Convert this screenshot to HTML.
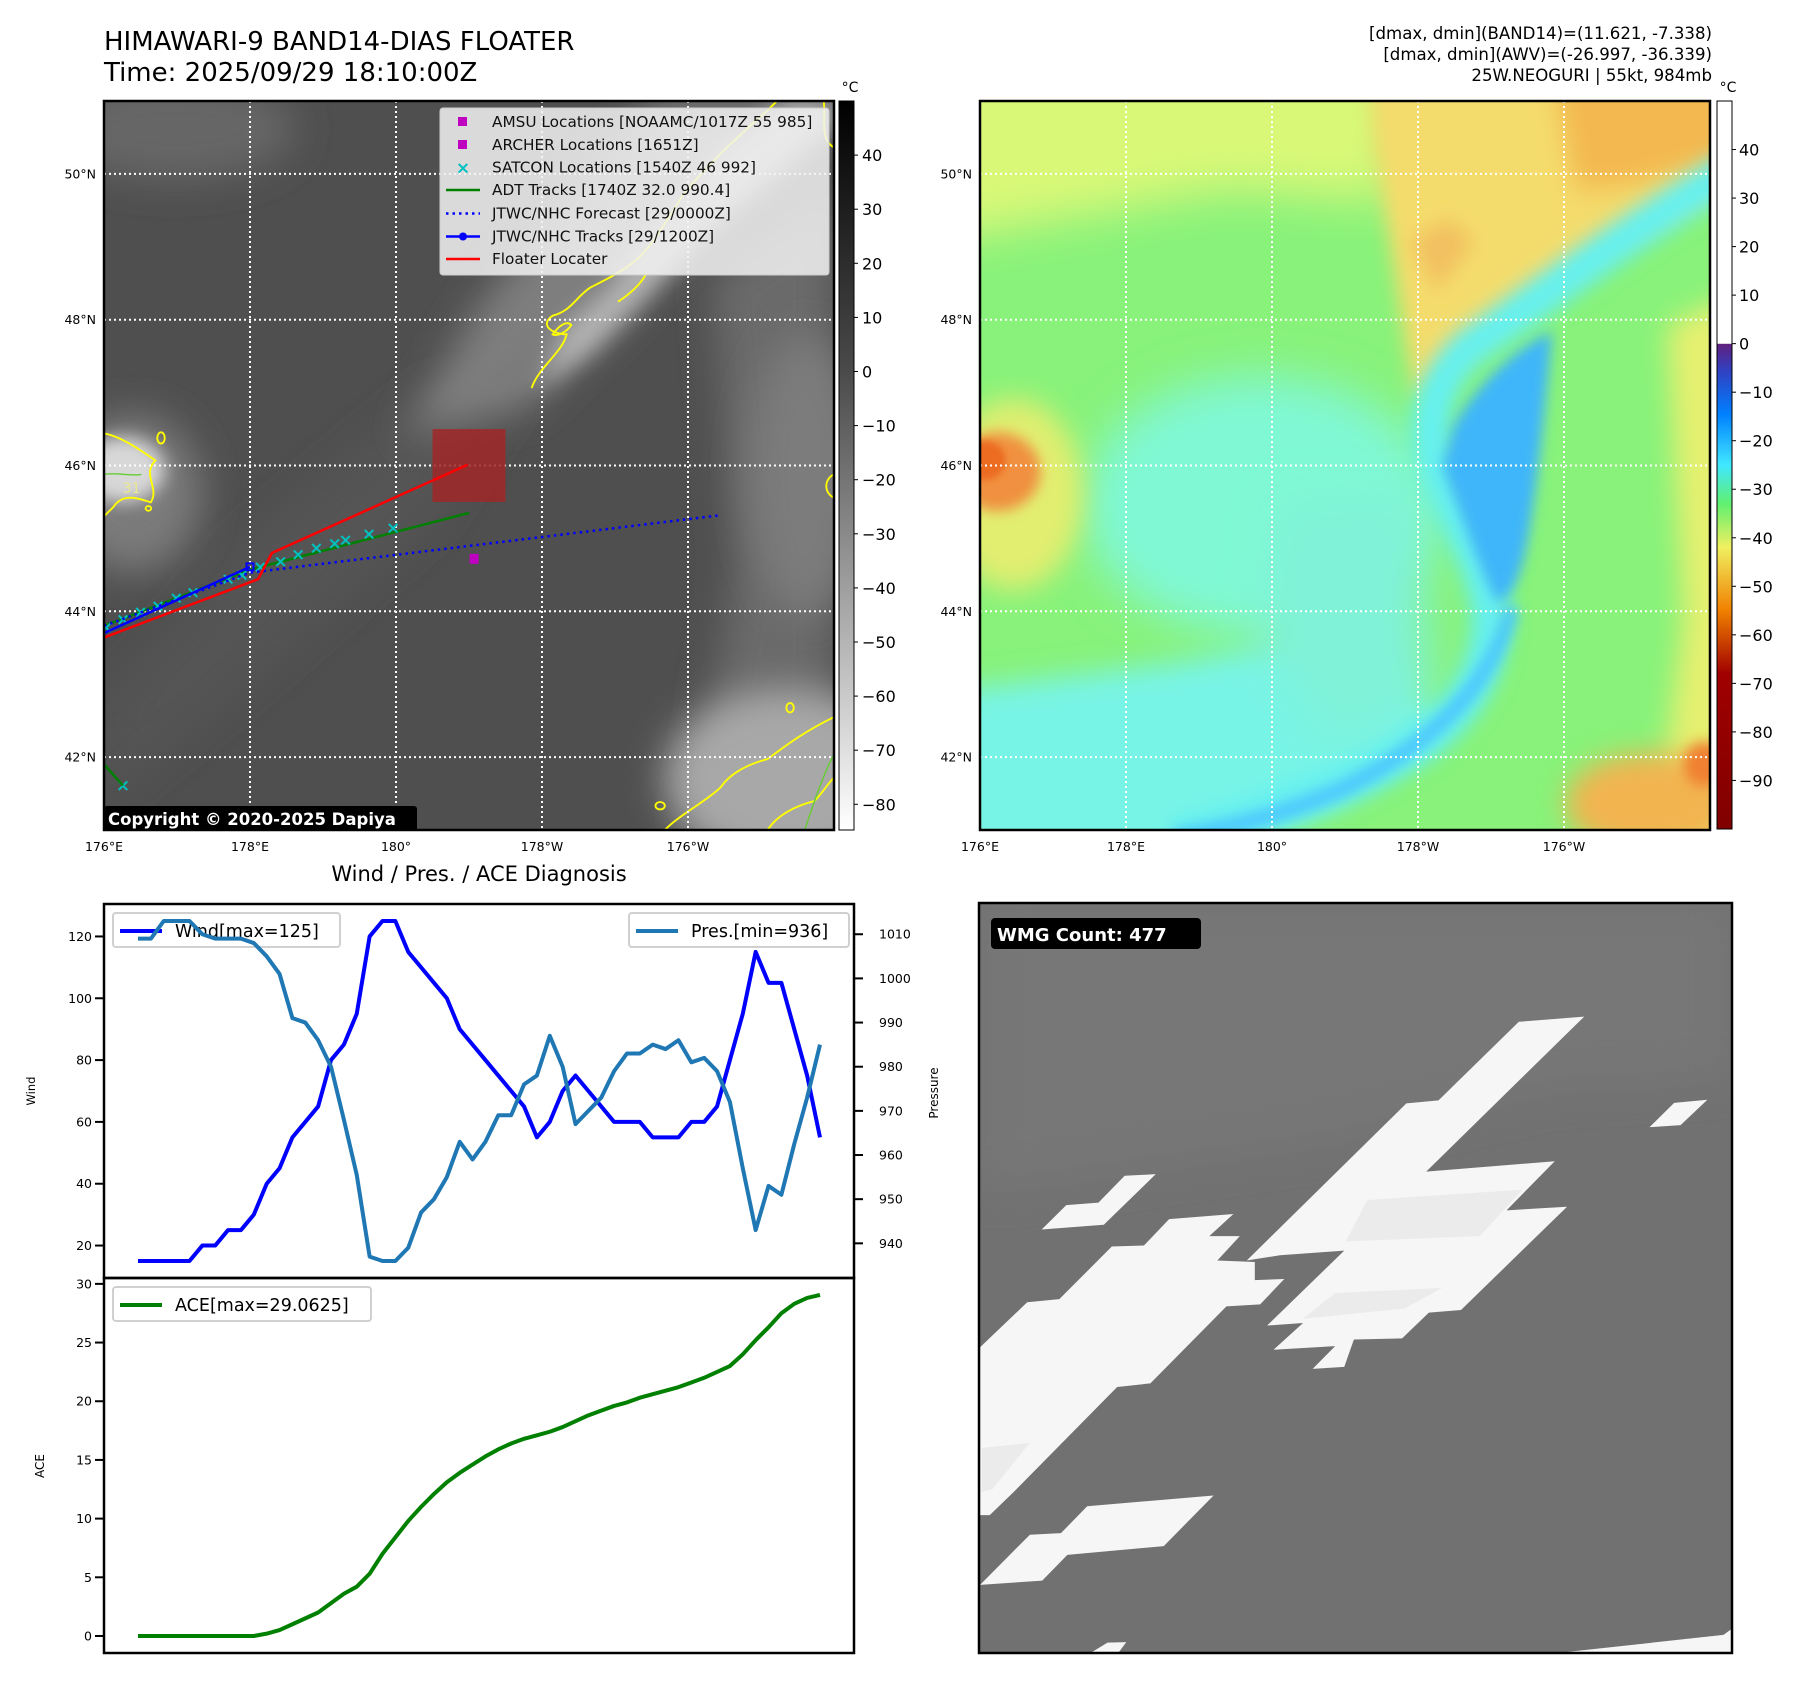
<!DOCTYPE html>
<html><head><meta charset="utf-8"><title>HIMAWARI-9 BAND14 Floater</title>
<style>
html,body{margin:0;padding:0;background:#fff;}
svg{display:block;font-family:"DejaVu Sans","Liberation Sans",sans-serif;}
</style></head>
<body>
<svg id="fig" width="1797" height="1690" viewBox="0 0 1797 1690" xmlns="http://www.w3.org/2000/svg">
<defs>
  <filter id="b40" x="-50%" y="-50%" width="200%" height="200%"><feGaussianBlur stdDeviation="40"/></filter>
  <filter id="b25" x="-50%" y="-50%" width="200%" height="200%"><feGaussianBlur stdDeviation="25"/></filter>
  <filter id="b18" x="-50%" y="-50%" width="200%" height="200%"><feGaussianBlur stdDeviation="18"/></filter>
  <filter id="b12" x="-50%" y="-50%" width="200%" height="200%"><feGaussianBlur stdDeviation="12"/></filter>
  <filter id="b6" x="-50%" y="-50%" width="200%" height="200%"><feGaussianBlur stdDeviation="6"/></filter>
  <linearGradient id="grayBar" x1="0" y1="0" x2="0" y2="1">
    <stop offset="0" stop-color="#000"/><stop offset="0.37" stop-color="#4a4a4a"/><stop offset="0.7" stop-color="#a8a8a8"/><stop offset="1" stop-color="#fff"/>
  </linearGradient>
  <linearGradient id="colBar" x1="0" y1="0" x2="0" y2="1">
    <stop offset="0" stop-color="#fff"/><stop offset="0.333" stop-color="#fff"/>
    <stop offset="0.334" stop-color="#602080"/><stop offset="0.37" stop-color="#3040c0"/>
    <stop offset="0.43" stop-color="#0080ff"/><stop offset="0.5" stop-color="#40e8ff"/>
    <stop offset="0.553" stop-color="#60f070"/><stop offset="0.613" stop-color="#f0f060"/>
    <stop offset="0.7" stop-color="#f08000"/><stop offset="0.787" stop-color="#a00000"/>
    <stop offset="1" stop-color="#800000"/>
  </linearGradient>
  <clipPath id="clipL"><rect x="104" y="101" width="730" height="729"/></clipPath>
  <clipPath id="clipR"><rect x="980" y="101" width="730" height="729"/></clipPath>
</defs>

<!-- Titles -->
<text x="104" y="50" font-size="26">HIMAWARI-9 BAND14-DIAS FLOATER</text>
<text x="104" y="81" font-size="26">Time: 2025/09/29 18:10:00Z</text>
<g font-size="16.6" text-anchor="end">
  <text x="1712" y="39">[dmax, dmin](BAND14)=(11.621, -7.338)</text>
  <text x="1712" y="60">[dmax, dmin](AWV)=(-26.997, -36.339)</text>
  <text x="1712" y="81">25W.NEOGURI | 55kt, 984mb</text>
</g>

<!-- LEFT MAP -->
<g clip-path="url(#clipL)">
 <svg x="104" y="101" width="730" height="729" viewBox="0 0 1562 1562" preserveAspectRatio="none">
  <rect x="0" y="0" width="1562" height="1562" fill="#4f4f4f"/>
  <ellipse cx="150" cy="60" rx="260" ry="110" fill="#666" filter="url(#b40)"/>
  <polygon points="0,1300 300,950 700,620 900,600 700,900 300,1250 0,1500" fill="#555" filter="url(#b40)"/>
  <polygon points="640,720 900,660 1100,470 1320,230 1562,40 1562,0 1180,0 980,220 800,440" fill="#7e7e7e" filter="url(#b40)"/>
  <polygon points="920,620 990,480 1080,400 1180,260 1330,100 1460,0 1562,0 1562,50 1300,270 1150,430 1040,540" fill="#b4b4b4" filter="url(#b25)"/>
  <polygon points="700,640 850,560 950,480 900,600" fill="#7a7a7a" filter="url(#b18)"/>
  <polygon points="1300,380 1562,200 1562,1562 1250,1562 1350,1000" fill="#6a6a6a" filter="url(#b40)"/>
  <ellipse cx="1460" cy="1450" rx="260" ry="190" fill="#a8a8a8" filter="url(#b40)"/>
  <ellipse cx="1500" cy="800" rx="120" ry="300" fill="#7c7c7c" filter="url(#b40)"/>
  <ellipse cx="60" cy="840" rx="150" ry="170" fill="#7a7a7a" filter="url(#b40)"/>
  <ellipse cx="40" cy="790" rx="90" ry="70" fill="#d8d8d8" filter="url(#b18)"/>
  <g fill="none" stroke="#ffff00" stroke-width="4">
   <path d="M915,615 C930,570 980,540 990,500 C960,500 930,480 960,460 C1000,450 1010,420 1040,400 C1080,380 1120,360 1150,330 C1180,300 1200,260 1240,200 C1280,150 1340,90 1420,20 L1440,0"/>
   <path d="M1100,430 C1130,410 1150,390 1160,370"/>
   <path d="M960,500 C975,480 990,470 1000,480 C990,495 970,505 960,500 Z"/>
   <path d="M1540,0 C1545,40 1530,80 1562,100"/>
   <path d="M0,712 C40,720 80,750 110,770 C80,800 120,830 100,860 C70,850 40,840 20,870 L0,890"/>
   <ellipse cx="122" cy="722" rx="8" ry="12"/>
   <ellipse cx="95" cy="873" rx="6" ry="5"/>
   <path d="M1562,800 C1540,810 1540,840 1562,850"/>
   <path d="M1200,1562 C1230,1530 1290,1500 1320,1470 C1340,1440 1380,1420 1420,1410 C1460,1380 1500,1350 1562,1320"/>
   <path d="M1420,1562 C1440,1530 1480,1510 1520,1500 C1540,1480 1550,1460 1562,1450"/>
   <ellipse cx="1468" cy="1300" rx="8" ry="10"/>
   <ellipse cx="1190" cy="1510" rx="10" ry="8"/>
  </g>
  <g fill="none" stroke="#66cc33" stroke-width="3">
   <path d="M0,800 C30,795 60,805 80,800"/>
   <path d="M1500,1560 C1520,1500 1540,1440 1562,1400"/>
  </g>
  <text x="40" y="840" font-size="30" fill="#e8e890">31</text>
 </svg>
 <g id="gridL" stroke="#fff" stroke-width="2" stroke-dasharray="2,3"></g>
 <g id="tracksL"></g>
</g>
<rect x="104" y="101" width="730" height="729" fill="none" stroke="#000" stroke-width="2.5"/>

<!-- Legend -->
<g>
  <rect x="440" y="108" width="389" height="167" rx="3" fill="#f2f2f2" fill-opacity="0.85" stroke="#ccc"/>
  <g font-size="15.3" fill="#111">
   <rect x="458" y="117" width="9" height="9" fill="#c000c0"/>
   <text x="492" y="127">AMSU Locations [NOAAMC/1017Z 55 985]</text>
   <rect x="458" y="140" width="9" height="9" fill="#c000c0"/>
   <text x="492" y="150">ARCHER Locations [1651Z]</text>
   <text x="463" y="173.5" text-anchor="middle" font-size="17" font-weight="bold" fill="#00c0c0">×</text>
   <text x="492" y="172.5">SATCON Locations [1540Z 46 992]</text>
   <line x1="446" y1="190" x2="480" y2="190" stroke="#008000" stroke-width="2.5"/>
   <text x="492" y="195">ADT Tracks [1740Z 32.0 990.4]</text>
   <line x1="446" y1="213.5" x2="480" y2="213.5" stroke="#0000ff" stroke-width="2.5" stroke-dasharray="2.5,4"/>
   <text x="492" y="218.5">JTWC/NHC Forecast [29/0000Z]</text>
   <line x1="446" y1="236.5" x2="480" y2="236.5" stroke="#0000ff" stroke-width="2.5"/>
   <circle cx="463" cy="236.5" r="4" fill="#0000ff"/>
   <text x="492" y="241.5">JTWC/NHC Tracks [29/1200Z]</text>
   <line x1="446" y1="259" x2="480" y2="259" stroke="#ff0000" stroke-width="2.5"/>
   <text x="492" y="264">Floater Locater</text>
  </g>
</g>
<g>
  <rect x="104" y="806" width="313" height="25" rx="3" fill="#000"/>
  <text x="108" y="825" font-size="16.5" font-weight="bold" fill="#fff">Copyright © 2020-2025 Dapiya</text>
</g>

<!-- Left colorbar -->
<rect x="839" y="101" width="15" height="729" fill="url(#grayBar)" stroke="#000" stroke-width="1"/>
<g id="cbL" font-size="16"></g>
<text x="850" y="92" font-size="14" text-anchor="middle">°C</text>

<!-- RIGHT MAP -->
<g clip-path="url(#clipR)">
 <svg x="980" y="101" width="730" height="729" viewBox="37 181 1363 1296" preserveAspectRatio="none">
  <rect x="0" y="0" width="1500" height="1600" fill="#88f27a"/>
  <polygon points="-100,100 820,100 800,360 500,340 -100,440" fill="#d9f878" filter="url(#b40)"/>
  <ellipse cx="560" cy="900" rx="330" ry="230" fill="#80f8d4" filter="url(#b40)"/>
  <polygon points="-100,1240 400,1180 760,1120 900,1300 700,1430 400,1560 -100,1560" fill="#78f4e6" filter="url(#b25)"/>
  <polygon points="600,900 850,880 880,1250 700,1330 560,1150" fill="#80f2d8" filter="url(#b40)"/>
  <ellipse cx="100" cy="880" rx="130" ry="170" fill="#e2ee70" filter="url(#b25)"/>
  <ellipse cx="70" cy="840" rx="80" ry="70" fill="#f09040" filter="url(#b12)"/>
  <ellipse cx="45" cy="820" rx="40" ry="35" fill="#ec6c20" filter="url(#b6)"/>
  <polygon points="1320,580 1500,500 1500,1560 1290,1560 1350,1100" fill="#e6f070" filter="url(#b25)"/>
  <ellipse cx="1290" cy="1430" rx="160" ry="90" fill="#f2b450" filter="url(#b25)"/>
  <ellipse cx="1390" cy="1360" rx="40" ry="40" fill="#f08030" filter="url(#b12)"/>
  <polygon points="760,100 1500,100 1500,300 1200,450 1000,580 850,710 830,600 800,420 770,250" fill="#f4dc6c" filter="url(#b18)"/>
  <polygon points="1100,100 1500,100 1500,270 1250,330 1150,340" fill="#f3b850" filter="url(#b25)"/>
  <polygon points="840,430 910,390 960,430 890,520" fill="#f2c060" filter="url(#b18)"/>
  <path d="M1450,300 C1250,410 1100,520 950,620 C880,680 860,760 900,860 C940,960 1010,1050 985,1150 C960,1260 880,1320 750,1380 C620,1430 500,1470 400,1490" fill="none" stroke="#66f0f0" stroke-width="70" filter="url(#b18)"/>
  <path d="M1030,1080 C1000,1200 900,1320 700,1410 C600,1450 500,1475 400,1490" fill="none" stroke="#48c4ff" stroke-width="26" filter="url(#b12)"/>
  <path d="M920,760 C980,660 1060,610 1105,590 C1095,700 1080,850 1060,960 C1045,1040 1020,1075 1000,1070 C965,1000 940,930 900,830 Z" fill="#40b6fa" filter="url(#b12)"/>
 </svg>
 <g id="gridR" stroke="#fff" stroke-width="2" stroke-dasharray="2,3"></g>
</g>
<rect x="980" y="101" width="730" height="729" fill="none" stroke="#000" stroke-width="2.5"/>
<rect x="1717" y="101" width="15" height="728" fill="url(#colBar)" stroke="#000" stroke-width="1"/>
<g id="cbR" font-size="16"></g>
<text x="1728" y="92" font-size="14" text-anchor="middle">°C</text>
<g id="mapLabels" font-size="12.5"></g>

<!-- CHART -->
<text x="479" y="881" font-size="21" text-anchor="middle">Wind / Pres. / ACE Diagnosis</text>
<g id="chart"></g>

<!-- WMG panel -->
<g>
 <svg x="979" y="903" width="753" height="750" viewBox="35 45 1406 1452" preserveAspectRatio="none">
  <rect x="35" y="45" width="1406" height="1452" fill="#717171"/>
  <polygon points="35,45 1441,45 1441,380 1100,400 700,500 35,600" fill="#777" filter="url(#b40)"/>
  <g fill="#f6f6f6">
   <polygon points="1043,275 1165,265 870,565 1110,545 1020,640 1133,633 935,833 875,838 825,888 735,890 717,943 658,947 700,903 585,910 640,858 573,863 717,718 597,727 535,737 833,433 893,427"/>
   <polygon points="510,647 465,690 522,690 480,737 550,740 550,775 605,773 560,822 497,826 355,975 293,982 100,1185 55,1230 37,1230 37,905 125,818 185,812 283,710 343,708 390,657"/>
   <polygon points="152,677 198,630 258,625 307,573 365,570 268,668"/>
   <polygon points="1287,479 1333,432 1395,426 1345,475"/>
   <polygon points="37,1365 130,1268 188,1265 237,1213 473,1192 380,1290 200,1307 153,1357"/>
   <polygon points="243,1497 275,1477 310,1476 295,1497"/>
   <polygon points="1115,1497 1425,1462 1441,1450 1441,1497"/>
  </g>
  <g fill="#ebebeb">
   <polygon points="760,620 1050,600 970,690 720,700"/>
   <polygon points="640,850 830,830 900,790 700,800"/>
   <polygon points="40,1100 130,1090 60,1180 40,1185"/>
  </g>
 </svg>
 <rect x="979" y="903" width="753" height="750" fill="none" stroke="#000" stroke-width="2.5"/>
 <rect x="991" y="918" width="210" height="31" rx="4" fill="#000"/>
 <text x="997" y="941" font-size="18" font-weight="bold" fill="#fff">WMG Count: 477</text>
</g>
</svg>

<script>
// ---------- chart data ----------
const windValues = [15,15,15,15,15,20,20,25,25,30,40,45,55,60,65,80,85,95,120,125,125,115,110,105,100,90,85,80,75,70,65,55,60,70,75,70,65,60,60,60,55,55,55,60,60,65,80,95,115,105,105,90,75,55];
const presValues = [1009,1009,1013,1013,1013,1010,1009,1009,1009,1008,1005,1001,991,990,986,980,968,955.5,937,936,936,939,947,950,955,963,959,963,969,969,976,978,987,980,967,970,973,979,983,983,985,984,986,981,982,979,972,957,943,953,951,962.5,973,985];
const aceValues = [0,0,0,0,0,0,0,0,0,0,0.2,0.5,1.0,1.5,2.0,2.8,3.6,4.2,5.3,7.0,8.4,9.8,11.0,12.1,13.1,13.9,14.6,15.3,15.9,16.4,16.8,17.1,17.4,17.8,18.3,18.8,19.2,19.6,19.9,20.3,20.6,20.9,21.2,21.6,22.0,22.5,23.0,24.0,25.2,26.3,27.5,28.3,28.8,29.06];
const windTicks = [20,40,60,80,100,120];
const presTicks = [940,950,960,970,980,990,1000,1010];
const aceTicks = [0,5,10,15,20,25,30];
// ---------- map data ----------
const latTicks = [50,48,46,44,42];
const lonTicks = [176,178,180,182,184];
const lonTickLabels = ["176°E","178°E","180°","178°W","176°W"];
const floaterLon = [176.0,178.11,178.3,180.98];
const floaterLat = [43.64,44.44,44.8,46.01];
const adtLon = [176.0,178.0,181.0];
const adtLat = [43.8,44.57,45.35];
const jtwcLon = [176.0,178.0];
const jtwcLat = [43.7,44.61];
const fcstLon = [176.0,178.0,184.46];
const fcstLat = [43.8,44.53,45.32];
const satconLon = [176.03,176.26,176.5,176.74,176.99,177.22,177.7,177.89,178.14,178.42,178.66,178.91,179.16,179.31,179.63,179.96,176.26];
const satconLat = [43.78,43.89,43.99,44.07,44.18,44.26,44.44,44.5,44.61,44.68,44.78,44.87,44.93,44.98,45.06,45.14,41.61];
const amsuLon = [181.07];
const amsuLat = [44.72];
const floaterBoxLon = [180.5,181.5];
const floaterBoxLat = [45.5,46.5];
const cbLeftTicks = [40,30,20,10,0,-10,-20,-30,-40,-50,-60,-70,-80];
const cbRightTicks = [40,30,20,10,0,-10,-20,-30,-40,-50,-60,-70,-80,-90];

const NS = "http://www.w3.org/2000/svg";
function mk(tag, attrs, parent){ const e=document.createElementNS(NS,tag); for(const k in attrs) e.setAttribute(k,attrs[k]); if(parent) parent.appendChild(e); return e; }

function mxL(lon){ return 104 + (lon-176)*73; }
function mxR(lon){ return 980 + (lon-176)*73; }
function my(lat){ return 101 + (51-lat)*72.9; }

const gL=document.getElementById('gridL'), gR=document.getElementById('gridR'), ml=document.getElementById('mapLabels');
lonTicks.forEach((lon,i)=>{
  if(i>0){ mk('line',{x1:mxL(lon),y1:101,x2:mxL(lon),y2:830},gL); mk('line',{x1:mxR(lon),y1:101,x2:mxR(lon),y2:830},gR); }
  const t1=mk('text',{x:mxL(lon),y:851,'text-anchor':'middle'},ml); t1.textContent=lonTickLabels[i];
  
  
  const t2=mk('text',{x:mxR(lon),y:851,'text-anchor':'middle'},ml); t2.textContent=lonTickLabels[i];
  
  
});
latTicks.forEach(lat=>{
  mk('line',{x1:104,y1:my(lat),x2:834,y2:my(lat)},gL); mk('line',{x1:980,y1:my(lat),x2:1710,y2:my(lat)},gR);
  const t1=mk('text',{x:96,y:my(lat)+4.5,'text-anchor':'end'},ml); t1.textContent=lat+"°N";
  
  
  const t2=mk('text',{x:972,y:my(lat)+4.5,'text-anchor':'end'},ml); t2.textContent=lat+"°N";
  
  
});

const tr=document.getElementById('tracksL');
function pts(lons,lats){ return lons.map((l,i)=>mxL(l)+","+my(lats[i])).join(" "); }
const box=mk('rect',{x:mxL(floaterBoxLon[0]),y:my(floaterBoxLat[1]),width:mxL(floaterBoxLon[1])-mxL(floaterBoxLon[0]),height:my(floaterBoxLat[0])-my(floaterBoxLat[1]),fill:'#a02828','fill-opacity':'0.85'},tr);


const adt=mk('polyline',{points:pts(adtLon,adtLat),fill:'none',stroke:'#008000','stroke-width':2.5},tr);


satconLon.forEach((l,i)=>{
  const s=mk('text',{x:mxL(l),y:my(satconLat[i])+5.5,'text-anchor':'middle','font-size':17,'font-weight':'bold',fill:'#00c0c0'},tr); s.textContent='×';
  
  
});
mk('line',{x1:mxL(176),y1:my(41.9),x2:mxL(176.26),y2:my(41.61),stroke:'#008000','stroke-width':2.5},tr);
const fc=mk('polyline',{points:pts(fcstLon,fcstLat),fill:'none',stroke:'#0000ff','stroke-width':2.5,'stroke-dasharray':'2.5,4'},tr);


const jt=mk('polyline',{points:pts(jtwcLon,jtwcLat),fill:'none',stroke:'#0000ff','stroke-width':2.5},tr);


mk('rect',{x:mxL(jtwcLon[1])-3.5,y:my(jtwcLat[1])-3.5,width:7,height:7,fill:'none',stroke:'#0000ff','stroke-width':2},tr);
const fl=mk('polyline',{points:pts(floaterLon,floaterLat),fill:'none',stroke:'#ff0000','stroke-width':2.5},tr);


amsuLon.forEach((l,i)=>{
  const a=mk('rect',{x:mxL(l)-4.5,y:my(amsuLat[i])-5,width:9,height:10,fill:'#c000c0'},tr);
  
  
});

const cbL=document.getElementById('cbL');
cbLeftTicks.forEach(v=>{
  const y=101+(50-v)*5.41;
  mk('line',{x1:854,y1:y,x2:858,y2:y,stroke:'#000'},cbL);
  const t=mk('text',{x:862,y:y+6},cbL); t.textContent=(v<0?'\u2212'+(-v):v);
  
  
});
const cbR=document.getElementById('cbR');
cbRightTicks.forEach(v=>{
  const y=101+(50-v)*4.853;
  mk('line',{x1:1732,y1:y,x2:1736,y2:y,stroke:'#000'},cbR);
  const t=mk('text',{x:1739,y:y+6},cbR); t.textContent=(v<0?'\u2212'+(-v):v);
  
  
});

const ch=document.getElementById('chart');
const X0=104, X1=854, WT=904, WB=1278, AT=1278, AB=1653;
function xi(i){ return 138 + i*(682/(windValues.length-1)); }
function yW(v){ return WT + (130.5-v)/121*(WB-WT); }
function yP(p){ return WT + (1016.85-p)/84.7*(WB-WT); }
function yA(a){ return AT + (30.5-a)/31.95*(AB-AT); }

windTicks.forEach(v=>{
  mk('line',{x1:X0-9,y1:yW(v),x2:X0,y2:yW(v),stroke:'#000','stroke-width':2},ch);
  const t=mk('text',{x:X0-12,y:yW(v)+4.5,'text-anchor':'end','font-size':12.5},ch); t.textContent=v;
  
  
});
presTicks.forEach(v=>{
  mk('line',{x1:X1,y1:yP(v),x2:X1+9,y2:yP(v),stroke:'#000','stroke-width':2},ch);
  const t=mk('text',{x:X1+25,y:yP(v)+4.5,'font-size':12.5},ch); t.textContent=v;
  
  
});
aceTicks.forEach(v=>{
  mk('line',{x1:X0-9,y1:yA(v),x2:X0,y2:yA(v),stroke:'#000','stroke-width':2},ch);
  const t=mk('text',{x:X0-12,y:yA(v)+4.5,'text-anchor':'end','font-size':12.5},ch); t.textContent=v;
  
  
});
const wl=mk('text',{x:0,y:0,'font-size':11.5,'text-anchor':'middle',transform:'translate(35,1091) rotate(-90)'},ch); wl.textContent='Wind';


const pl=mk('text',{x:0,y:0,'font-size':12,'text-anchor':'middle',transform:'translate(938,1093) rotate(-90)'},ch); pl.textContent='Pressure';


const al=mk('text',{x:0,y:0,'font-size':12,'text-anchor':'middle',transform:'translate(44,1466) rotate(-90)'},ch); al.textContent='ACE';



function legend(x,y,w,color,label,name){
  const g=mk('g',{},ch);
  
  
  mk('rect',{x:x,y:y,width:w,height:34,rx:3,fill:'#fff','fill-opacity':0.85,stroke:'#d0d0d0','stroke-width':2},g);
  mk('line',{x1:x+7,y1:y+18,x2:x+49,y2:y+18,stroke:color,'stroke-width':4},g);
  const t=mk('text',{x:x+62,y:y+24,'font-size':17.5},g); t.textContent=label;
}
legend(113,913,227,'#0000ff','Wind[max=125]','wind-legend');
legend(629,913,220,'#1f77b4','Pres.[min=936]','pressure-legend');
legend(113,1287,258,'#008000','ACE[max=29.0625]','ace-legend');

const wline=mk('polyline',{points:windValues.map((v,i)=>xi(i)+","+yW(v)).join(" "),fill:'none',stroke:'#0000ff','stroke-width':4,'stroke-linejoin':'round'},ch);


const pline=mk('polyline',{points:presValues.map((v,i)=>xi(i)+","+yP(v)).join(" "),fill:'none',stroke:'#1f77b4','stroke-width':4,'stroke-linejoin':'round'},ch);


const aline=mk('polyline',{points:aceValues.map((v,i)=>xi(i)+","+yA(v)).join(" "),fill:'none',stroke:'#008000','stroke-width':4,'stroke-linejoin':'round'},ch);



const f1=mk('rect',{x:X0,y:WT,width:X1-X0,height:WB-WT,fill:'none',stroke:'#000','stroke-width':2.5},ch);


const f2=mk('rect',{x:X0,y:AT,width:X1-X0,height:AB-AT,fill:'none',stroke:'#000','stroke-width':2.5},ch);


</script>
</body></html>
